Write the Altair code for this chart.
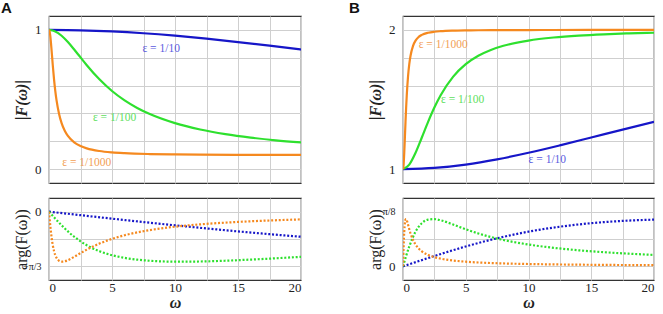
import altair as alt
import pandas as pd
import math

# ---------------- data ----------------
series_names = ["1/10", "1/100", "1/1000"]
series_colors = ["#1616c8", "#2ee02e", "#f5891f"]
label_colors = ["#5a5ae0", "#5ee05e", "#f2a055"]

w_blue = [0, 2.5, 5, 7.5, 10, 12.5, 15, 17.5, 20]
w_green = [0, 0.5, 1, 1.5, 2, 2.5, 3, 4, 5, 6, 7, 8, 10, 12, 14, 16, 18, 20]
w_orange = [0, 0.025, 0.05, 0.1, 0.15, 0.2, 0.25, 0.3, 0.4, 0.5, 0.6, 0.8, 1,
            1.25, 1.5, 2, 2.5, 3, 4, 5, 6, 8, 10, 12, 15, 20]

# Panel A magnitude |F|
A_mag_blue = [1, 0.9972, 0.9891, 0.9759, 0.9583, 0.9370, 0.9129, 0.8866, 0.8590]
A_mag_green = [1, 0.9891, 0.9583, 0.9129, 0.8590, 0.8023, 0.7463, 0.6448, 0.5609,
               0.4935, 0.4393, 0.3955, 0.3302, 0.2845, 0.2512, 0.2262, 0.2069, 0.1917]
A_mag_orange = [1, 0.9972, 0.9891, 0.9583, 0.9129, 0.8590, 0.8023, 0.7463, 0.6448,
                0.5609, 0.4935, 0.3955, 0.3302, 0.2752, 0.2379, 0.1917, 0.1652, 0.1486,
                0.1297, 0.1199, 0.1142, 0.1082, 0.1054, 0.1038, 0.1024, 0.1014]
# Panel A phase arg(F) (radians)
A_arg_blue = [0, -0.0674, -0.1339, -0.1988, -0.2615, -0.3213, -0.3779, -0.4310, -0.4805]
A_arg_green = [0, -0.1339, -0.2615, -0.3779, -0.4805, -0.5686, -0.6431, -0.7566, -0.8339,
               -0.8856, -0.9194, -0.9405, -0.9576, -0.9543, -0.9395, -0.9179, -0.8928, -0.8652]
A_arg_orange = [0, -0.0674, -0.1339, -0.2615, -0.3779, -0.4805, -0.5686, -0.6431, -0.7566,
                -0.8339, -0.8856, -0.9405, -0.9576, -0.9514, -0.9293, -0.8652, -0.7947,
                -0.7273, -0.6116, -0.5214, -0.4516, -0.3532, -0.2884, -0.2432, -0.1965, -0.1485]
# Panel B magnitude |F|
B_mag_blue = [1, 1.0084, 1.0325, 1.0699, 1.1170, 1.1704, 1.2269, 1.2838, 1.3395]
B_mag_green = [1, 1.0325, 1.1170, 1.2269, 1.3395, 1.4422, 1.5305, 1.6645, 1.7541,
               1.8145, 1.8562, 1.8858, 1.9235, 1.9455, 1.9594, 1.9686, 1.9750, 1.9796]
B_mag_orange = [1, 1.0084, 1.0325, 1.1170, 1.2269, 1.3395, 1.4422, 1.5305, 1.6645,
                1.7541, 1.8145, 1.8858, 1.9235, 1.9496, 1.9644, 1.9796, 1.9869, 1.9908,
                1.9948, 1.9967, 1.9977, 1.9987, 1.9992, 1.9994, 1.9996, 1.9998]
# Panel B phase arg(F) (radians)
B_arg_blue = [0, 0.0740, 0.1426, 0.2015, 0.2490, 0.2847, 0.3100, 0.3264, 0.3356]
B_arg_green = [0, 0.1426, 0.2490, 0.3100, 0.3356, 0.3393, 0.3309, 0.3000, 0.2663,
               0.2362, 0.2107, 0.1894, 0.1566, 0.1330, 0.1153, 0.1016, 0.0908, 0.0820]
B_arg_orange = [0, 0.0740, 0.1426, 0.2490, 0.3100, 0.3356, 0.3393, 0.3309, 0.3000,
                0.2663, 0.2362, 0.1894, 0.1566, 0.1280, 0.1080, 0.0820, 0.0660, 0.0552,
                0.0415, 0.0333, 0.0277, 0.0208, 0.0167, 0.0139, 0.0111, 0.0083]

# curve labels: (omega, value)
A_lab_w = [8.9, 5.2, 3.0]
A_lab_y = [0.865, 0.37, 0.045]
B_lab_w = [11.5, 4.75, 3.2]
B_lab_y = [1.067, 1.50, 1.894]
lab_text = ["ε = 1/10", "ε = 1/100", "ε = 1/1000"]

x_grid = [0, 2.5, 5, 7.5, 10, 12.5, 15, 17.5, 20]
A_mag_grid = [0, 0.2, 0.4, 0.6, 0.8, 1.0]
B_mag_grid = [1.0, 1.2, 1.4, 1.6, 1.8, 2.0]
A_arg_grid = [-math.pi / 3, -math.pi / 6, 0]
B_arg_grid = [0, math.pi / 16, math.pi / 8]


def long_df(cols):
    rows = []
    for name, ws, ys in cols:
        for w, y in zip(ws, ys):
            rows.append({"w": w, "y": y, "s": name})
    return pd.DataFrame(rows)


A_mag = long_df([("1/10", w_blue, A_mag_blue), ("1/100", w_green, A_mag_green),
                 ("1/1000", w_orange, A_mag_orange)])
A_arg = long_df([("1/10", w_blue, A_arg_blue), ("1/100", w_green, A_arg_green),
                 ("1/1000", w_orange, A_arg_orange)])
B_mag = long_df([("1/10", w_blue, B_mag_blue), ("1/100", w_green, B_mag_green),
                 ("1/1000", w_orange, B_mag_orange)])
B_arg = long_df([("1/10", w_blue, B_arg_blue), ("1/100", w_green, B_arg_green),
                 ("1/1000", w_orange, B_arg_orange)])
A_lab = pd.DataFrame({"w": A_lab_w, "y": A_lab_y, "t": lab_text, "s": series_names})
B_lab = pd.DataFrame({"w": B_lab_w, "y": B_lab_y, "t": lab_text, "s": series_names})

SERIF = "Liberation Serif"
color_scale = alt.Scale(domain=series_names, range=series_colors)
lab_scale = alt.Scale(domain=series_names, range=label_colors)

W_A, W_B, H_TOP, H_BOT = 252, 251, 167, 82


def x_axis(show):
    if show:
        return alt.Axis(values=x_grid, labelExpr="datum.value % 5 == 0 ? datum.label : ''",
                        title="ω", titleFont=SERIF, titleFontSize=16, titleFontWeight="bold",
                        titleFontStyle="italic", titlePadding=0, labelFont=SERIF,
                        labelFontSize=13, labelPadding=1, labelOverlap=False, ticks=False,
                        tickSize=0, domain=False, grid=True, gridColor="#cfcfcf",
                        gridWidth=1, labelColor="#222", titleColor="#222")
    return alt.Axis(values=x_grid, labels=False, title=None, ticks=False, tickSize=0,
                    domain=False, grid=True, gridColor="#cfcfcf", gridWidth=1)


PI_TEST = "abs(datum.value + 1.0472) < 0.01 || abs(datum.value - 0.3927) < 0.01"


def y_axis(values, label_expr, title, weight, style):
    return alt.Axis(values=values, labelExpr=label_expr, title=title, titleFont=SERIF,
                    titleFontSize=16, titleFontWeight=weight, titleFontStyle=style,
                    titlePadding=4, labelFont=SERIF,
                    labelFontSize={"condition": {"test": PI_TEST, "value": 10}, "value": 13},
                    labelPadding=8, labelOverlap=False, labelBound=False, labelFlush=False,
                    ticks=False, tickSize=0,
                    domain=False, grid=True, gridColor="#cfcfcf", gridWidth=1,
                    minExtent=16, maxExtent=16, labelColor="#222", titleColor="#222")


def top_panel(df, lab, width, ydom, yvals, lexpr, letter, dx):
    yax = y_axis(yvals, lexpr, "|F(ω)|", "bold", "italic")
    ysc = alt.Scale(domain=ydom, nice=False, zero=False)
    xsc = alt.Scale(domain=[0, 20], nice=False)
    line = alt.Chart(df).mark_line(strokeWidth=2.2, interpolate="monotone", clip=True).encode(
        x=alt.X("w:Q", scale=xsc, axis=x_axis(False)),
        y=alt.Y("y:Q", scale=ysc, axis=yax),
        color=alt.Color("s:N", scale=color_scale, legend=None),
    )
    text = alt.Chart(lab).mark_text(font=SERIF, fontSize=11.5).encode(
        x=alt.X("w:Q", scale=xsc, axis=x_axis(False)),
        y=alt.Y("y:Q", scale=ysc, axis=yax),
        text="t:N",
        color=alt.Color("s:N", scale=lab_scale, legend=None),
    )
    return alt.layer(line, text).resolve_scale(color="independent").properties(
        width=width, height=H_TOP,
        title=alt.TitleParams(letter, anchor="start", frame="group", dx=dx, offset=0,
                              font="Liberation Sans", fontSize=15, fontWeight="bold",
                              color="#111"))


def bot_panel(df, width, ydom, yvals, lexpr):
    return alt.Chart(df).mark_line(strokeWidth=2.2, strokeDash=[2, 1.8], strokeCap="butt",
                                   interpolate="monotone", clip=True).encode(
        x=alt.X("w:Q", scale=alt.Scale(domain=[0, 20], nice=False), axis=x_axis(True)),
        y=alt.Y("y:Q", scale=alt.Scale(domain=ydom, nice=False, zero=False),
                axis=y_axis(yvals, lexpr, "arg(F(ω))", "normal", "normal")),
        color=alt.Color("s:N", scale=color_scale, legend=None),
    ).properties(width=width, height=H_BOT)


a_top = top_panel(A_mag, A_lab, W_A, [-0.1, 1.1], A_mag_grid,
                  "abs(datum.value) < 0.01 ? '0' : (abs(datum.value - 1) < 0.01 ? '1' : '')",
                  "A", -48)
b_top = top_panel(B_mag, B_lab, W_B, [0.9, 2.1], B_mag_grid,
                  "abs(datum.value - 1) < 0.01 ? '1' : (abs(datum.value - 2) < 0.01 ? '2' : '')",
                  "B", -54)
a_bot = bot_panel(A_arg, W_A, [-5 * math.pi / 12, math.pi / 12], A_arg_grid,
                  "datum.value == 0 ? '0' : (datum.value < -1 ? '−π/3' : '')")
b_bot = bot_panel(B_arg, W_B, [-math.pi / 32, 5 * math.pi / 32], B_arg_grid,
                  "datum.value == 0 ? '0' : (datum.value > 0.3 ? 'π/8' : '')")

chart = alt.concat(a_top, b_top, a_bot, b_bot, columns=2,
                   spacing={"row": 15, "column": 102}, bounds="flush").properties(
    padding={"left": 0, "top": 0, "right": 5, "bottom": 2},
    background="white",
).configure_view(stroke="#333", strokeWidth=1.2)

chart.save("out.html", embed_options={"renderer": "svg", "actions": False})
